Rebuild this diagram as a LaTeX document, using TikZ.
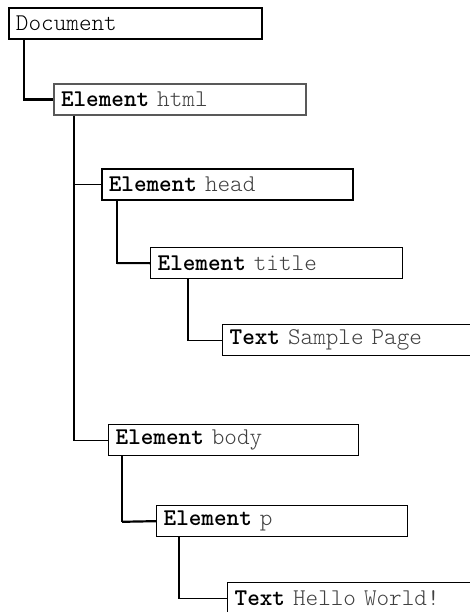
\documentclass[tikz,border=0pt]{standalone}
\usepackage{fontspec}
\setmonofont{lmmonolt10-regular.otf}[BoldFont=lmmonolt10-bold.otf]
\begin{document}
\begin{tikzpicture}[x=1pt,y=-1pt,
  domnode/.style={draw, rectangle, anchor=north west, minimum height=31pt,
    inner xsep=7pt, inner ysep=0pt, align=left, line width=1.3pt,
    font=\ttfamily\fontsize{24}{26}\selectfont, text=black},
  thinlink/.style={line width=1.1pt},
  thicklink/.style={line width=2.2pt}]
\useasboundingbox (0,0) rectangle (469,612);
\node[domnode, text width=239pt, line width=2pt] (doc) at (8,7) {Document};
\node[domnode, text width=238pt, draw=black!65, line width=2pt] (html) at (53,83) {\textbf{Element} \textcolor{black!75}{html}};
\node[domnode, text width=237pt, line width=1.6pt] (head) at (101,168) {\textbf{Element} \textcolor{black!75}{head}};
\node[domnode, text width=238pt] (title) at (150,247) {\textbf{Element} \textcolor{black!75}{title}};
\node[domnode, text width=246pt] (sample) at (222,324) {\textbf{Text} \textcolor{black!75}{Sample Page}};
\node[domnode, text width=236pt] (body) at (108,424) {\textbf{Element} \textcolor{black!75}{body}};
\node[domnode, text width=237pt] (p) at (156,505) {\textbf{Element} \textcolor{black!75}{p}};
\node[domnode, text width=246pt] (hello) at (227,582) {\textbf{Text} \textcolor{black!75}{Hello World!}};
\draw[thicklink] ([xshift=16pt]doc.south west) |- (html.west);
\draw[thinlink] ([xshift=21pt]html.south west) |- (head.west);
\draw[thinlink] ([xshift=21pt]html.south west) |- (body.west);
\draw[thinlink] ([xshift=16pt]head.south west) |- (title.west);
\draw[thicklink] ([xshift=16pt,yshift=-62.5pt]head.south west) -- (title.west);
\draw[thinlink] ([xshift=38pt]title.south west) |- (sample.west);
\draw[thinlink] ([xshift=14pt]body.south west) |- (p.west);
\draw[thicklink] ([xshift=14pt,yshift=-65.5pt]body.south west) -- (p.west);
\draw[thinlink] ([xshift=23pt]p.south west) |- (hello.west);
\end{tikzpicture}
\end{document}
